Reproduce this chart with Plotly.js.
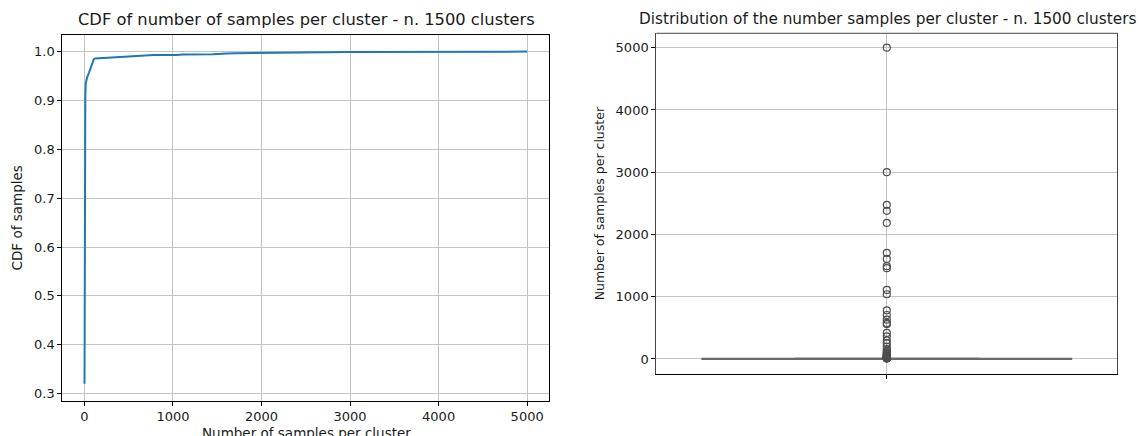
<!DOCTYPE html>
<html>
<head>
<meta charset="utf-8">
<script src="https://cdn.plot.ly/plotly-3.0.1.min.js"></script>
<style>html,body{margin:0;padding:0;background:#fff}#chart{width:1139px;height:436px}</style>
</head>
<body>
<div id="chart"></div>
<script>
// CDF of cluster sizes
const cdfSize = [1, 1.5, 2, 3, 4, 5, 7, 10, 15, 30, 52, 75, 90, 105, 120, 200, 364, 418, 560, 632, 707, 782, 1040, 1109, 1458, 1490, 1608, 1704, 2186, 2379, 2476, 3000, 5000];
const cdfValue = [0.32, 0.45, 0.58, 0.70, 0.77, 0.82, 0.87, 0.905, 0.935, 0.947, 0.957, 0.967, 0.975, 0.984, 0.986, 0.987, 0.989, 0.9895, 0.990, 0.991, 0.992, 0.993, 0.9933, 0.994, 0.9947, 0.9953, 0.996, 0.9967, 0.9973, 0.998, 0.9987, 0.9993, 1.0];

// Box plot summary of samples per cluster
const boxStats = {q1: 1, median: 2, q3: 4, lowerfence: 1, upperfence: 8};
const outliers = [5000, 3000, 2476, 2379, 2186, 1704, 1608, 1490, 1458, 1109, 1040, 782, 707, 632, 580, 560, 418, 364, 300, 250, 200, 160, 130, 110, 95, 80, 70, 60, 50, 45, 40, 35, 30, 27, 24, 21, 19, 17, 15, 13, 12, 11, 10, 9];

const leftTicks = [0, 1000, 2000, 3000, 4000, 5000];
const cdfTicks = [0.3, 0.4, 0.5, 0.6, 0.7, 0.8, 0.9, 1.0];
const rightTicks = [0, 1000, 2000, 3000, 4000, 5000];

const titleLeft = 'CDF of number of samples per cluster - n. 1500 clusters';
const titleRight = 'Distribution of the number samples per cluster - n. 1500 clusters';
const xTitleLeft = 'Number of samples per cluster';

const W = 1139, H = 436;
const FONT = 'DejaVu Sans, sans-serif';
const TXT = '#1a1a1a';
const GRID = '#c4c4c4';

const traces = [
  {
    type: 'scatter', mode: 'lines', x: cdfSize, y: cdfValue,
    line: {color: '#1f77b4', width: 2}, xaxis: 'x', yaxis: 'y', showlegend: false, hoverinfo: 'skip'
  },
  {
    type: 'box', x: [0], q1: [boxStats.q1], median: [boxStats.median], q3: [boxStats.q3],
    lowerfence: [boxStats.lowerfence], upperfence: [boxStats.upperfence],
    width: 0.8, whiskerwidth: 0.5, boxpoints: false,
    line: {color: '#6a6a6a', width: 2}, fillcolor: '#3274a1',
    xaxis: 'x2', yaxis: 'y2', showlegend: false, hoverinfo: 'skip'
  },
  {
    type: 'scatter', mode: 'markers', x: outliers.map(() => 0), y: outliers,
    marker: {symbol: 'circle-open', size: 7, color: '#4d4d4d', line: {width: 1.2}},
    xaxis: 'x2', yaxis: 'y2', showlegend: false, hoverinfo: 'skip'
  }
];

const axBase = {
  showline: true, linecolor: '#000', linewidth: 1,
  ticks: 'outside', ticklen: 4, tickwidth: 1, tickcolor: '#000',
  showgrid: true, gridcolor: GRID, gridwidth: 1, zeroline: false,
  tickfont: {family: FONT, size: 13, color: TXT}, automargin: false
};

const layout = {
  width: W, height: H,
  margin: {l: 0, r: 0, t: 0, b: 0},
  paper_bgcolor: '#fff', plot_bgcolor: '#fff',
  font: {family: FONT, color: TXT},
  xaxis: Object.assign({}, axBase, {
    domain: [62.3 / W, 549.3 / W], range: [-250, 5250], anchor: 'y', mirror: true,
    tickvals: leftTicks, ticktext: leftTicks.map(String)
  }),
  yaxis: Object.assign({}, axBase, {
    domain: [1 - 400.7 / H, 1 - 35 / H], range: [0.2854, 1.034], anchor: 'x', mirror: true,
    tickvals: cdfTicks, ticktext: cdfTicks.map(v => v.toFixed(1)),
    title: {text: 'CDF of samples', font: {family: FONT, size: 13.5, color: TXT}, standoff: 8}
  }),
  xaxis2: Object.assign({}, axBase, {
    domain: [656.3 / W, 1117.3 / W], range: [-0.5, 0.5], anchor: 'y2', mirror: false,
    tickvals: [0], ticktext: ['']
  }),
  yaxis2: Object.assign({}, axBase, {
    domain: [1 - 374 / H, 1 - 33.3 / H], range: [-241, 5231], anchor: 'x2', mirror: true,
    linecolor: '#444',
    tickvals: rightTicks, ticktext: rightTicks.map(String),
    tickfont: {family: FONT, size: 13, color: TXT},
    title: {text: 'Number of samples per cluster', font: {family: FONT, size: 12.5, color: TXT}, standoff: 8}
  }),
  shapes: [
    {type: 'line', xref: 'paper', yref: 'paper', x0: 656.3 / W, x1: 1117.3 / W, y0: 1 - 33.3 / H, y1: 1 - 33.3 / H,
     line: {color: '#444', width: 1}}
  ],
  annotations: [
    {text: titleLeft, xref: 'paper', yref: 'paper', x: 306 / W, y: 1 - 20 / H, xanchor: 'center', yanchor: 'middle',
     showarrow: false, font: {family: FONT, size: 16.3, color: TXT}},
    {text: titleRight, xref: 'paper', yref: 'paper', x: 887 / W, y: 1 - 19 / H, xanchor: 'center', yanchor: 'middle',
     showarrow: false, font: {family: FONT, size: 15.3, color: TXT}},
    {text: xTitleLeft, xref: 'paper', yref: 'paper', x: 306 / W, y: 1 - 423 / H, xanchor: 'center', yanchor: 'top',
     showarrow: false, font: {family: FONT, size: 13.5, color: TXT}}
  ]
};

Plotly.newPlot('chart', traces, layout, {staticPlot: true, displayModeBar: false});
</script>
</body>
</html>
